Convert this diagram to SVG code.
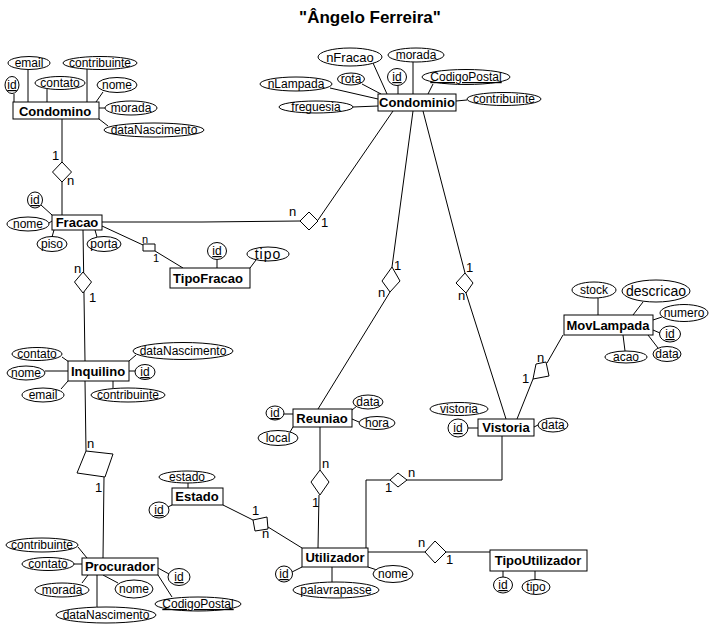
<svg xmlns="http://www.w3.org/2000/svg" width="715" height="633" viewBox="0 0 715 633">
<style>
.bg{fill:#fff}
.en{fill:#fff;stroke:#000;stroke-width:1}
.at{fill:#fff;stroke:#000;stroke-width:1}
.rel{fill:#fff;stroke:#000;stroke-width:1}
.ln{fill:none;stroke:#000;stroke-width:1}
.et{font-family:"Liberation Sans",Arial,sans-serif;font-size:13px;font-weight:bold;text-anchor:middle;fill:#000}
.tx{font-family:"Liberation Sans",Arial,sans-serif;font-size:12px;text-anchor:middle;fill:#000}
.u{text-decoration:underline}
.cd{font-family:"Liberation Sans",Arial,sans-serif;font-size:13px;fill:#000}
.ti{font-family:"Liberation Sans",Arial,sans-serif;font-size:17px;font-weight:bold;text-anchor:middle;fill:#000}
</style>
<rect class="bg" x="0" y="0" width="715" height="633"/>
<text class="ti" x="370" y="23">"Ângelo Ferreira"</text>

<g id="connectors">
  <line class="ln" x1="62" y1="119" x2="62" y2="215"/>
  <polyline class="ln" points="102,222 202,222 300,221"/>
  <line class="ln" x1="318" y1="220" x2="393" y2="111"/>
  <line class="ln" x1="102" y1="226" x2="143" y2="245"/>
  <line class="ln" x1="155" y1="251" x2="183" y2="268"/>
  <line class="ln" x1="83" y1="230" x2="85" y2="361"/>
  <line class="ln" x1="85" y1="381" x2="86" y2="451"/>
  <line class="ln" x1="104" y1="477" x2="103" y2="558"/>
  <line class="ln" x1="223" y1="505" x2="253" y2="520"/>
  <line class="ln" x1="268" y1="527" x2="302" y2="548"/>
  <line class="ln" x1="320" y1="427" x2="320" y2="470"/>
  <line class="ln" x1="319" y1="495" x2="318" y2="548"/>
  <line class="ln" x1="413" y1="111" x2="392" y2="267"/>
  <line class="ln" x1="390" y1="292" x2="318" y2="409"/>
  <line class="ln" x1="423" y1="111" x2="465" y2="273"/>
  <line class="ln" x1="466" y1="293" x2="506" y2="419"/>
  <line class="ln" x1="517" y1="419" x2="533" y2="379"/>
  <line class="ln" x1="547" y1="363" x2="563" y2="335"/>
  <polyline class="ln" points="502,436 502,480 407,480"/>
  <polyline class="ln" points="390,480 366,480 366,548"/>
  <line class="ln" x1="368" y1="552" x2="425" y2="552"/>
  <line class="ln" x1="446" y1="552" x2="490" y2="552"/>

  <text class="cd" x="52" y="160">1</text>
  <text class="cd" x="67" y="185">n</text>
  <text class="cd" x="289" y="216">n</text>
  <text class="cd" x="321" y="227">1</text>
  <text class="cd" x="142" y="243" style="font-size:11px">n</text>
  <text class="cd" x="153" y="262" style="font-size:11px">1</text>
  <text class="cd" x="74" y="273">n</text>
  <text class="cd" x="89" y="302">1</text>
  <text class="cd" x="87" y="448">n</text>
  <text class="cd" x="95" y="492">1</text>
  <text class="cd" x="252" y="515">1</text>
  <text class="cd" x="262" y="538">n</text>
  <text class="cd" x="322" y="468">n</text>
  <text class="cd" x="312" y="507">1</text>
  <text class="cd" x="394" y="270">1</text>
  <text class="cd" x="378" y="297">n</text>
  <text class="cd" x="466" y="272">1</text>
  <text class="cd" x="458" y="300">n</text>
  <text class="cd" x="537" y="362">n</text>
  <text class="cd" x="522" y="383">1</text>
  <text class="cd" x="408" y="477">n</text>
  <text class="cd" x="385" y="492">1</text>
  <text class="cd" x="418" y="547">n</text>
  <text class="cd" x="446" y="564">1</text>
</g>

<g id="relationships">
  <polygon id="r-condomino-fracao" class="rel" points="62,162 71.5,172 62,182 52.5,172"/>
  <polygon id="r-fracao-condominio" class="rel" points="309,212 318,221 309,230 300,221"/>
  <polygon id="r-fracao-tipofracao" class="rel" points="143,244 155,244 155,251 143,251"/>
  <polygon id="r-fracao-inquilino" class="rel" points="83,272 91.5,282 83,293 74.5,282"/>
  <polygon id="r-inquilino-procurador" class="rel" points="86,451 113,454 105,477 77,473"/>
  <polygon id="r-estado-utilizador" class="rel" points="253,520 267,517 268,529 255,531"/>
  <polygon id="r-reuniao-utilizador" class="rel" points="320,470 329,482 320,495 311,482"/>
  <polygon id="r-condominio-reuniao" class="rel" points="392,267 400,281 390,292 382,281"/>
  <polygon id="r-condominio-vistoria" class="rel" points="465,273 473,283 466,293 456,283"/>
  <polygon id="r-vistoria-movlampada" class="rel" points="536,364 546,362 549,376 533,379"/>
  <polygon id="r-vistoria-utilizador" class="rel" points="398,473 407,480 398,487 390,480"/>
  <polygon id="r-utilizador-tipoutilizador" class="rel" points="435,541 446,552 435,563 425,552"/>
</g>

<g id="condomino">
  <g class="ln">
    <line x1="28" y1="69" x2="28" y2="102"/>
    <line x1="87" y1="69" x2="87" y2="102"/>
    <line x1="14" y1="94" x2="14" y2="102"/>
    <line x1="47" y1="89" x2="47" y2="102"/>
    <line x1="103" y1="92" x2="96" y2="102"/>
    <line x1="99" y1="108" x2="105" y2="108"/>
    <line x1="99" y1="119" x2="108" y2="126"/>
  </g>
  <rect class="en" x="13" y="102" width="86" height="17"/>
  <text class="et" x="55" y="116">Condomino</text>
  <ellipse class="at" cx="29" cy="63" rx="21" ry="6.5"/><text class="tx" x="29" y="67">email</text>
  <ellipse class="at" cx="100" cy="63" rx="37" ry="6.5"/><text class="tx" x="100" y="67">contribuinte</text>
  <ellipse class="at" cx="12" cy="85" rx="7" ry="8.5"/><text class="tx u" x="12" y="89">id</text>
  <ellipse class="at" cx="60" cy="83" rx="25" ry="6.5"/><text class="tx" x="60" y="87">contato</text>
  <ellipse class="at" cx="117" cy="85" rx="20" ry="7.5"/><text class="tx" x="117" y="89">nome</text>
  <ellipse class="at" cx="131" cy="108" rx="26" ry="7"/><text class="tx" x="131" y="112">morada</text>
  <ellipse class="at" cx="154" cy="130" rx="50" ry="7"/><text class="tx" x="154" y="134">dataNascimento</text>
</g>

<g id="condominio">
  <g class="ln">
    <line x1="373" y1="63" x2="387" y2="94"/>
    <line x1="413" y1="62" x2="413" y2="94"/>
    <line x1="362" y1="84" x2="381" y2="94"/>
    <line x1="398" y1="85" x2="398" y2="94"/>
    <line x1="433" y1="84" x2="428" y2="94"/>
    <line x1="330" y1="88" x2="378" y2="99"/>
    <line x1="353" y1="107" x2="378" y2="106"/>
    <line x1="456" y1="101" x2="467" y2="100"/>
  </g>
  <rect class="en" x="378" y="94" width="78" height="17"/>
  <text class="et" x="417" y="107">Condominio</text>
  <ellipse class="at" cx="350" cy="57" rx="32" ry="9"/><text class="tx" x="350" y="62" style="font-size:13px">nFracao</text>
  <ellipse class="at" cx="416" cy="55" rx="28" ry="7"/><text class="tx" x="416" y="59">morada</text>
  <ellipse class="at" cx="351" cy="79" rx="13.5" ry="6"/><text class="tx" x="351" y="83">rota</text>
  <ellipse class="at" cx="397" cy="77" rx="9.5" ry="8.5"/><text class="tx u" x="397" y="81">id</text>
  <ellipse class="at" cx="466" cy="77" rx="44" ry="7.5"/><text class="tx u" x="466" y="81">CodigoPostal</text>
  <ellipse class="at" cx="296" cy="84" rx="36" ry="7"/><text class="tx" x="296" y="88">nLampada</text>
  <ellipse class="at" cx="316" cy="107" rx="37" ry="6"/><text class="tx" x="316" y="111">freguesia</text>
  <ellipse class="at" cx="504" cy="99" rx="37" ry="6.5"/><text class="tx" x="504" y="103">contribuinte</text>
</g>

<g id="fracao">
  <g class="ln">
    <line x1="41" y1="205" x2="52" y2="215"/>
    <line x1="49" y1="223" x2="52" y2="221"/>
    <line x1="52" y1="237" x2="54" y2="230"/>
    <line x1="97" y1="237" x2="95" y2="230"/>
  </g>
  <rect class="en" x="52" y="215" width="50" height="15"/>
  <text class="et" x="77" y="227">Fracao</text>
  <ellipse class="at" cx="35" cy="200" rx="7.5" ry="8"/><text class="tx u" x="35" y="204">id</text>
  <ellipse class="at" cx="28" cy="224" rx="21" ry="7"/><text class="tx" x="28" y="228">nome</text>
  <ellipse class="at" cx="52" cy="244" rx="15" ry="7.5"/><text class="tx" x="52" y="248">piso</text>
  <ellipse class="at" cx="104" cy="244" rx="17" ry="7.5"/><text class="tx" x="104" y="248">porta</text>
</g>

<g id="tipofracao">
  <g class="ln">
    <line x1="217" y1="260" x2="217" y2="268"/>
    <line x1="256" y1="260" x2="250" y2="268"/>
  </g>
  <rect class="en" x="170" y="268" width="80" height="20"/>
  <text class="et" x="208" y="283">TipoFracao</text>
  <ellipse class="at" cx="217" cy="251" rx="9.5" ry="8.5"/><text class="tx u" x="217" y="255">id</text>
  <ellipse class="at" cx="268" cy="254" rx="21" ry="7"/><text class="tx" x="268" y="259" style="font-size:14px;letter-spacing:1px">tipo</text>
</g>

<g id="inquilino">
  <g class="ln">
    <line x1="62" y1="357" x2="69" y2="362"/>
    <line x1="45" y1="371" x2="68" y2="371"/>
    <line x1="61" y1="389" x2="68" y2="381"/>
    <line x1="129" y1="361" x2="136" y2="355"/>
    <line x1="129" y1="371" x2="135" y2="371"/>
    <line x1="113" y1="381" x2="113" y2="388"/>
  </g>
  <rect class="en" x="68" y="361" width="61" height="20"/>
  <text class="et" x="98" y="376">Inquilino</text>
  <ellipse class="at" cx="37" cy="354" rx="25" ry="6.5"/><text class="tx" x="37" y="358">contato</text>
  <ellipse class="at" cx="26" cy="373" rx="19" ry="7"/><text class="tx" x="26" y="377">nome</text>
  <ellipse class="at" cx="43" cy="395" rx="21" ry="7"/><text class="tx" x="43" y="399">email</text>
  <ellipse class="at" cx="183" cy="351" rx="50" ry="8.5"/><text class="tx" x="183" y="355">dataNascimento</text>
  <ellipse class="at" cx="145" cy="372" rx="10" ry="7.5"/><text class="tx u" x="145" y="376">id</text>
  <ellipse class="at" cx="128" cy="395" rx="37" ry="7"/><text class="tx" x="128" y="399">contribuinte</text>
</g>

<g id="procurador">
  <g class="ln">
    <line x1="78" y1="547" x2="87" y2="558"/>
    <line x1="74" y1="564" x2="82" y2="564"/>
    <line x1="82" y1="583" x2="88" y2="575"/>
    <line x1="103" y1="575" x2="118" y2="583"/>
    <line x1="97" y1="575" x2="97" y2="607"/>
    <line x1="158" y1="568" x2="169" y2="574"/>
    <line x1="158" y1="575" x2="172" y2="597"/>
  </g>
  <rect class="en" x="82" y="558" width="76" height="17"/>
  <text class="et" x="120" y="571">Procurador</text>
  <ellipse class="at" cx="42" cy="545" rx="36" ry="7"/><text class="tx" x="42" y="549">contribuinte</text>
  <ellipse class="at" cx="48" cy="564" rx="26" ry="6.5"/><text class="tx" x="48" y="568">contato</text>
  <ellipse class="at" cx="62" cy="590" rx="27" ry="7"/><text class="tx" x="62" y="594">morada</text>
  <ellipse class="at" cx="134" cy="589" rx="19" ry="9"/><text class="tx" x="134" y="593">nome</text>
  <ellipse class="at" cx="106" cy="615" rx="50" ry="8"/><text class="tx" x="106" y="619">dataNascimento</text>
  <ellipse class="at" cx="179" cy="577" rx="11" ry="8.5"/><text class="tx u" x="179" y="581">id</text>
  <ellipse class="at" cx="198" cy="604" rx="43" ry="7"/><text class="tx u" x="198" y="608">CodigoPostal</text>
</g>

<g id="estado">
  <g class="ln">
    <line x1="188" y1="483" x2="188" y2="488"/>
    <line x1="168" y1="507" x2="172" y2="505"/>
  </g>
  <rect class="en" x="172" y="488" width="51" height="17"/>
  <text class="et" x="197" y="501">Estado</text>
  <ellipse class="at" cx="187" cy="477" rx="28" ry="6"/><text class="tx" x="187" y="481">estado</text>
  <ellipse class="at" cx="159" cy="510" rx="10" ry="8"/><text class="tx u" x="159" y="514">id</text>
</g>

<g id="reuniao">
  <g class="ln">
    <line x1="284" y1="414" x2="293" y2="414"/>
    <line x1="293" y1="427" x2="290" y2="432"/>
    <line x1="352" y1="410" x2="357" y2="406"/>
    <line x1="352" y1="419" x2="359" y2="422"/>
  </g>
  <rect class="en" x="293" y="409" width="59" height="18"/>
  <text class="et" x="322" y="423">Reuniao</text>
  <ellipse class="at" cx="275" cy="413" rx="9" ry="7"/><text class="tx u" x="275" y="417">id</text>
  <ellipse class="at" cx="278" cy="438" rx="20" ry="7.5"/><text class="tx" x="278" y="442">local</text>
  <ellipse class="at" cx="368" cy="402" rx="15" ry="7"/><text class="tx" x="368" y="406">data</text>
  <ellipse class="at" cx="377" cy="423" rx="18" ry="6.5"/><text class="tx" x="377" y="427">hora</text>
</g>

<g id="vistoria">
  <g class="ln">
    <line x1="468" y1="428" x2="478" y2="428"/>
    <line x1="534" y1="427" x2="538" y2="425"/>
  </g>
  <rect class="en" x="478" y="419" width="56" height="17"/>
  <text class="et" x="506" y="432">Vistoria</text>
  <ellipse class="at" cx="459" cy="409" rx="29" ry="6.5"/><text class="tx" x="459" y="413">vistoria</text>
  <ellipse class="at" cx="458" cy="428" rx="10" ry="9"/><text class="tx u" x="458" y="432">id</text>
  <ellipse class="at" cx="553" cy="425" rx="15" ry="7"/><text class="tx" x="553" y="429">data</text>
</g>

<g id="movlampada">
  <g class="ln">
    <line x1="598" y1="298" x2="598" y2="315"/>
    <line x1="643" y1="302" x2="633" y2="315"/>
    <line x1="653" y1="320" x2="662" y2="317"/>
    <line x1="653" y1="330" x2="660" y2="333"/>
    <line x1="648" y1="335" x2="658" y2="348"/>
    <line x1="623" y1="335" x2="625" y2="351"/>
  </g>
  <rect class="en" x="564" y="315" width="89" height="20"/>
  <text class="et" x="608" y="330">MovLampada</text>
  <ellipse class="at" cx="594" cy="290" rx="22" ry="8"/><text class="tx" x="594" y="294">stock</text>
  <ellipse class="at" cx="656" cy="291" rx="34" ry="11"/><text class="tx" x="656" y="296" style="font-size:14px">descricao</text>
  <ellipse class="at" cx="684" cy="313" rx="24" ry="8.5"/><text class="tx" x="684" y="317">numero</text>
  <ellipse class="at" cx="670" cy="334" rx="10.5" ry="8"/><text class="tx u" x="670" y="338">id</text>
  <ellipse class="at" cx="667" cy="354" rx="14" ry="7.5"/><text class="tx" x="667" y="358">data</text>
  <ellipse class="at" cx="626" cy="357" rx="21" ry="6"/><text class="tx" x="626" y="361">acao</text>
</g>

<g id="utilizador">
  <g class="ln">
    <line x1="292" y1="572" x2="302" y2="567"/>
    <line x1="332" y1="567" x2="332" y2="582"/>
    <line x1="368" y1="567" x2="377" y2="570"/>
  </g>
  <rect class="en" x="302" y="548" width="66" height="19"/>
  <text class="et" x="335" y="562">Utilizador</text>
  <ellipse class="at" cx="284" cy="574" rx="8.5" ry="8"/><text class="tx u" x="284" y="578">id</text>
  <ellipse class="at" cx="336" cy="590" rx="43" ry="8"/><text class="tx" x="336" y="594">palavrapasse</text>
  <ellipse class="at" cx="393" cy="574" rx="20" ry="8.5"/><text class="tx" x="393" y="578">nome</text>
</g>

<g id="tipoutilizador">
  <g class="ln">
    <line x1="503" y1="571" x2="503" y2="577"/>
    <line x1="535" y1="571" x2="535" y2="580"/>
  </g>
  <rect class="en" x="490" y="550" width="97" height="21"/>
  <text class="et" x="538" y="565">TipoUtilizador</text>
  <ellipse class="at" cx="503" cy="585" rx="9.5" ry="8"/><text class="tx u" x="503" y="589">id</text>
  <ellipse class="at" cx="536" cy="587" rx="14" ry="7.5"/><text class="tx" x="536" y="591">tipo</text>
</g>
</svg>
